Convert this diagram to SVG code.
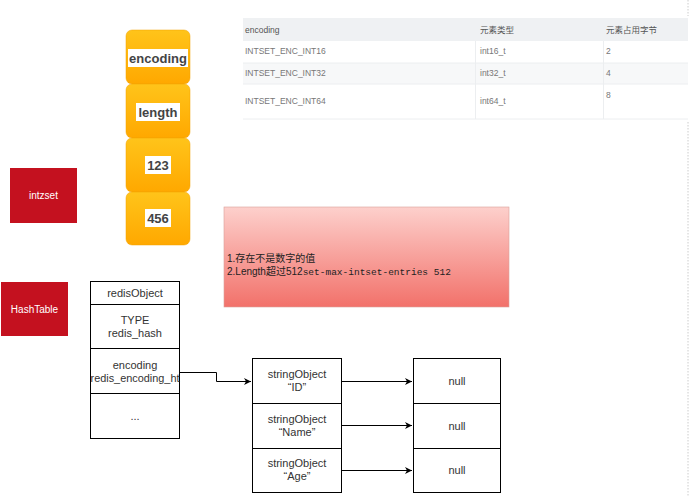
<svg xmlns="http://www.w3.org/2000/svg" width="692" height="496" viewBox="0 0 692 496">
<defs>
<linearGradient id="yel" x1="0" y1="0" x2="0" y2="1">
<stop offset="0" stop-color="#ffc41a"/>
<stop offset="1" stop-color="#ffa800"/>
</linearGradient>
<linearGradient id="pink" x1="0" y1="0" x2="0" y2="1">
<stop offset="0" stop-color="#fdd0cc"/>
<stop offset="1" stop-color="#f2716a"/>
</linearGradient>
<marker id="ah" markerWidth="8" markerHeight="8" refX="7" refY="4" orient="auto" markerUnits="userSpaceOnUse">
<path d="M0,0.5 L7,4 L0,7.5 L2,4 Z" fill="#000"/>
</marker>
<style>
.t{font-family:"Liberation Sans",Arial,"Noto Sans CJK SC",sans-serif;}
.tbl{font-size:8.5px;fill:#777;}
.tblh{font-size:8.5px;fill:#555;}
.ycell{fill:url(#yel);stroke:#f0a000;stroke-width:0.5;}
.ylab{font-size:13px;font-weight:bold;fill:#444;text-anchor:middle;}
.red{fill:#c4111f;}
.redt{font-size:10px;fill:#fff;text-anchor:middle;}
.box{fill:#fff;stroke:#000;stroke-width:1;}
.bt{font-size:11px;fill:#333;text-anchor:middle;}
.conn{fill:none;stroke:#000;stroke-width:1;marker-end:url(#ah);}
</style>
</defs>
<rect width="692" height="496" fill="#fff"/>
<line x1="688" y1="0" x2="688" y2="16" stroke="#ccc" stroke-dasharray="1.5,1.5"/>
<line x1="688" y1="122" x2="688" y2="496" stroke="#ccc" stroke-dasharray="1.5,1.5"/>
<g id="table">
<rect x="243" y="18" width="445" height="23" fill="#eff1f3"/>
<rect x="243" y="63" width="445" height="21" fill="#f7f8f9"/>
<line x1="243" y1="63" x2="688" y2="63" stroke="#eceef0"/>
<line x1="243" y1="84" x2="688" y2="84" stroke="#eceef0"/>
<line x1="243" y1="119" x2="688" y2="119" stroke="#eceef0"/>
<line x1="475.5" y1="41" x2="475.5" y2="119" stroke="#eceef0"/>
<line x1="603.5" y1="41" x2="603.5" y2="119" stroke="#eceef0"/>
<text class="t tblh" x="245" y="33">encoding</text>
<text class="t tblh" x="480" y="33">元素类型</text>
<text class="t tblh" x="606" y="33">元素占用字节</text>
<text class="t tbl" x="245" y="54">INTSET_ENC_INT16</text>
<text class="t tbl" x="480" y="54">int16_t</text>
<text class="t tbl" x="606" y="54">2</text>
<text class="t tbl" x="245" y="76">INTSET_ENC_INT32</text>
<text class="t tbl" x="480" y="76">int32_t</text>
<text class="t tbl" x="606" y="76">4</text>
<text class="t tbl" x="245" y="104">INTSET_ENC_INT64</text>
<text class="t tbl" x="480" y="104">int64_t</text>
<text class="t tbl" x="606" y="98">8</text>
</g>
<g id="intset-stack">
<rect class="ycell" x="126" y="30" width="64" height="54" rx="6"/>
<rect class="ycell" x="126" y="84" width="64" height="54" rx="6"/>
<rect class="ycell" x="126" y="138" width="64" height="54" rx="6"/>
<rect class="ycell" x="126" y="192" width="64" height="53" rx="6"/>
<rect x="128" y="49" width="60" height="18" fill="#fff"/>
<rect x="136" y="103" width="44" height="18" fill="#fff"/>
<rect x="145" y="156" width="26" height="18" fill="#fff"/>
<rect x="145" y="209" width="26" height="18" fill="#fff"/>
<text class="t ylab" x="158" y="63">encoding</text>
<text class="t ylab" x="158" y="117">length</text>
<text class="t ylab" x="158" y="170">123</text>
<text class="t ylab" x="158" y="223">456</text>
</g>
<g id="intzset">
<rect class="red" x="10" y="168" width="67" height="55"/>
<text class="t redt" x="43.5" y="199">intzset</text>
</g>
<g id="hashtable">
<rect class="red" x="1" y="282" width="67" height="54"/>
<text class="t redt" x="34.5" y="313">HashTable</text>
</g>
<g id="note">
<rect x="224" y="207" width="285" height="100" fill="url(#pink)" stroke="#d9a09a" stroke-width="0.6"/>
<text class="t" x="227" y="262" font-size="10" fill="#222">1.存在不是数字的值</text>
<text class="t" x="227" y="275" font-size="10" fill="#222">2.Length超过512<tspan font-family="'Liberation Mono','DejaVu Sans Mono',monospace" font-size="9.5">set-max-intset-entries 512</tspan></text>
</g>
<g id="redisObject">
<rect class="box" x="90.5" y="281.5" width="89" height="157"/>
<line x1="90.5" y1="304.5" x2="179.5" y2="304.5" stroke="#000"/>
<line x1="90.5" y1="348.5" x2="179.5" y2="348.5" stroke="#000"/>
<line x1="90.5" y1="393.5" x2="179.5" y2="393.5" stroke="#000"/>
<text class="t bt" x="135" y="297">redisObject</text>
<text class="t bt" x="135" y="324">TYPE</text>
<text class="t bt" x="135" y="337">redis_hash</text>
<text class="t bt" x="135" y="369">encoding</text>
<text class="t bt" x="135" y="382" font-size="10.5" textLength="89" lengthAdjust="spacingAndGlyphs">redis_encoding_ht</text>
<text class="t bt" x="135" y="420" fill="#888">...</text>
</g>
<g id="stringObjects">
<rect class="box" x="252.5" y="358.5" width="89" height="134"/>
<line x1="252.5" y1="403.5" x2="341.5" y2="403.5" stroke="#000"/>
<line x1="252.5" y1="448.5" x2="341.5" y2="448.5" stroke="#000"/>
<text class="t bt" x="297" y="378">stringObject</text>
<text class="t bt" x="297" y="391">“ID”</text>
<text class="t bt" x="297" y="423">stringObject</text>
<text class="t bt" x="297" y="436">“Name”</text>
<text class="t bt" x="297" y="467">stringObject</text>
<text class="t bt" x="297" y="480">“Age”</text>
</g>
<g id="nulls">
<rect class="box" x="413.5" y="358.5" width="87" height="134"/>
<line x1="413.5" y1="403.5" x2="500.5" y2="403.5" stroke="#000"/>
<line x1="413.5" y1="448.5" x2="500.5" y2="448.5" stroke="#000"/>
<text class="t bt" x="457" y="385">null</text>
<text class="t bt" x="457" y="430">null</text>
<text class="t bt" x="457" y="474">null</text>
</g>
<g id="connectors">
<path class="conn" d="M180,372.5 H216.5 V381.5 H251"/>
<path class="conn" d="M342,381.5 H412"/>
<path class="conn" d="M342,425.5 H412"/>
<path class="conn" d="M342,470.5 H412"/>
</g>
</svg>
